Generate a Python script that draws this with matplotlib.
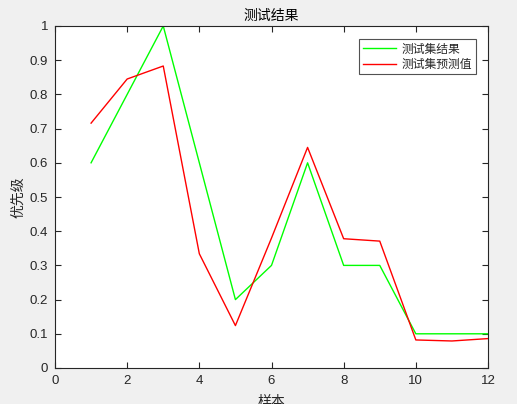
import matplotlib
matplotlib.use("Agg")
import matplotlib.pyplot as plt

samples = list(range(1, 13))
actual = [0.6, 0.8, 1.0, 0.6, 0.2, 0.3, 0.6, 0.3, 0.3, 0.1, 0.1, 0.1]
predicted = [0.716, 0.845, 0.883, 0.334, 0.124, 0.38, 0.645, 0.378, 0.371, 0.082, 0.079, 0.086]
xticks = [0, 2, 4, 6, 8, 10, 12]
yticks = [0, 0.1, 0.2, 0.3, 0.4, 0.5, 0.6, 0.7, 0.8, 0.9, 1]
ytick_labels = ["0", "0.1", "0.2", "0.3", "0.4", "0.5", "0.6", "0.7", "0.8", "0.9", "1"]

cjk = ["Noto Sans CJK SC", "DejaVu Sans"]
num = ["Liberation Sans", "DejaVu Sans"]

fig = plt.figure(figsize=(5.17, 4.04), dpi=100, facecolor="#f0f0f0")
ax = fig.add_axes([55/517, 36/404, 433/517, 342/404])
ax.set_facecolor("white")

ax.plot(samples, actual, color="#00ff00", lw=1.0, label="测试集结果")
ax.plot(samples, predicted, color="#ff0000", lw=1.0, label="测试集预测值")

ax.set_xlim(0, 12)
ax.set_ylim(0, 1)
ax.set_xticks(xticks)
ax.set_yticks(yticks)
ax.set_yticklabels(ytick_labels)
for lab in ax.get_xticklabels() + ax.get_yticklabels():
    lab.set_fontfamily(num)
    lab.set_fontsize(9.5)
    lab.set_color("#262626")
ax.tick_params(direction="in", length=4, width=0.8, top=True, right=True, color="#262626", pad=5)
for s in ax.spines.values():
    s.set_color("#262626")
    s.set_linewidth(0.8)

ax.set_title("测试结果", family=cjk, fontsize=10, color="#000000", pad=4)
ax.set_ylabel("优先级", family=cjk, fontsize=10, color="#262626", labelpad=3)
ax.set_xlabel("样本", family=cjk, fontsize=10, color="#262626", labelpad=6)

leg = ax.legend(loc="upper right", bbox_to_anchor=(0.972, 0.962), prop={"family": cjk, "size": 8.5},
                fancybox=False, frameon=True, borderpad=0.3, handlelength=2.8, handletextpad=0.5,
                labelspacing=0.2, borderaxespad=0)
leg.get_frame().set_edgecolor("#262626")
leg.get_frame().set_linewidth(0.8)
for t in leg.get_texts():
    t.set_color("#262626")

fig.savefig("out.png", dpi=100, facecolor=fig.get_facecolor())
